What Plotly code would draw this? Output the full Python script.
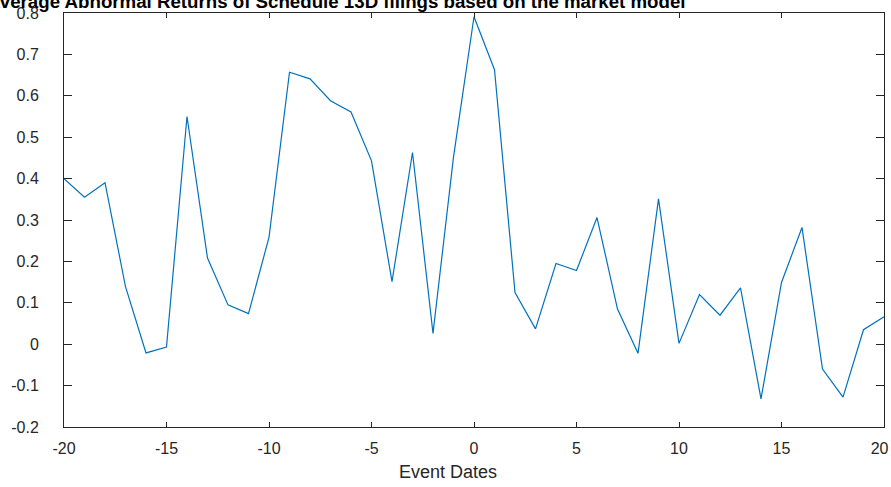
import plotly.graph_objects as go

event_dates = list(range(-20, 21))
abnormal_returns = [
    0.400, 0.355, 0.390, 0.139, -0.021, -0.007, 0.550, 0.208, 0.095, 0.074,
    0.258, 0.657, 0.641, 0.588, 0.561, 0.443, 0.151, 0.463, 0.026, 0.452,
    0.791, 0.663, 0.125, 0.037, 0.195, 0.178, 0.306, 0.085, -0.022, 0.351,
    0.002, 0.120, 0.070, 0.136, -0.132, 0.149, 0.282, -0.060, -0.128, 0.035,
    0.066,
]
x_ticks = [-20, -15, -10, -5, 0, 5, 10, 15, 20]
x_tick_text = ["-20", "-15", "-10", "-5", "0", "5", "10", "15", "20\u00a0\u00a0"]
y_ticks = [-0.2, -0.1, 0, 0.1, 0.2, 0.3, 0.4, 0.5, 0.6, 0.7, 0.8]
y_tick_text = ["-0.2", "-0.1", "0", "0.1", "0.2", "0.3", "0.4", "0.5", "0.6", "0.7", "0.8"]

title_text = "Average Abnormal Returns of Schedule 13D filings based on the market model"
x_label = "Event Dates"

FONT = "Liberation Sans, Arial, Helvetica, sans-serif"
AX = "#262626"

fig = go.Figure()
fig.add_trace(go.Scatter(
    x=event_dates, y=abnormal_returns, mode="lines",
    line=dict(color="#0072BD", width=1.2), showlegend=False,
))

fig.update_layout(
    width=891, height=487,
    margin=dict(l=64, r=7, t=13, b=60, autoexpand=False),
    paper_bgcolor="white", plot_bgcolor="white",
    font=dict(family=FONT, size=16, color=AX),
)
fig.update_xaxes(
    range=[-20, 20], tickvals=x_ticks, ticktext=x_tick_text,
    showgrid=False, zeroline=False, automargin=False,
    showline=True, linecolor=AX, linewidth=1, mirror="ticks",
    ticks="inside", ticklen=5, tickcolor=AX, tickwidth=1,
    ticklabelstandoff=7, ticklabeloverflow="allow",
    tickfont=dict(family=FONT, size=16, color=AX),
)
fig.update_yaxes(
    range=[-0.2, 0.8], tickvals=y_ticks, ticktext=y_tick_text,
    showgrid=False, zeroline=False, automargin=False,
    showline=True, linecolor=AX, linewidth=1, mirror="ticks",
    ticks="inside", ticklen=8, tickcolor=AX, tickwidth=1,
    ticklabelstandoff=21, ticklabeloverflow="allow",
    tickfont=dict(family=FONT, size=16, color=AX),
)
fig.add_annotation(
    text="<b>" + title_text + "</b>",
    xref="paper", yref="paper", x=0.7605, y=1.027,
    xanchor="right", yanchor="middle", showarrow=False,
    font=dict(family=FONT, size=18.7, color="black"),
)
fig.add_annotation(
    text=x_label,
    xref="paper", yref="paper", x=0.468, y=-0.1094,
    xanchor="center", yanchor="middle", showarrow=False,
    font=dict(family=FONT, size=18, color=AX),
)

fig.write_html("out.html")
